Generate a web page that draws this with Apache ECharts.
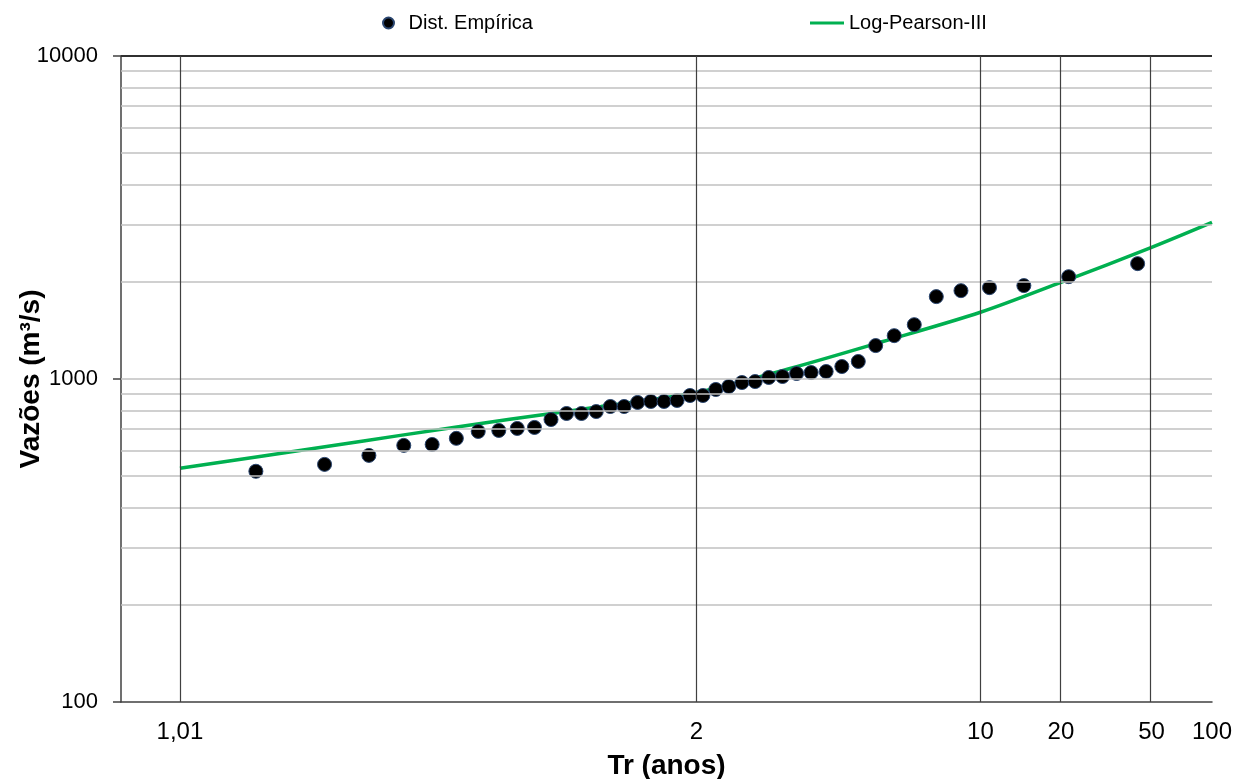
<!DOCTYPE html>
<html><head><meta charset="utf-8">
<script src="https://cdn.jsdelivr.net/npm/echarts@6/dist/echarts.min.js"></script>
<style>html,body{margin:0;padding:0;background:#fff}#c{width:1236px;height:779px}</style>
</head><body><div id="c"></div>
<script>
// Empirical distribution (Weibull plotting positions), return period in years
const empTr = [1.024, 1.049, 1.075, 1.103, 1.132, 1.162, 1.194, 1.229, 1.265, 1.303,
  1.344, 1.387, 1.433, 1.483, 1.536, 1.593, 1.654, 1.72, 1.792, 1.87,
  1.955, 2.048, 2.15, 2.263, 2.389, 2.529, 2.688, 2.867, 3.071, 3.308,
  3.583, 3.909, 4.3, 4.778, 5.375, 6.143, 7.167, 8.6, 10.75, 14.333, 21.5, 43];
const empQ = [518, 544, 580, 623, 627, 655, 688, 693, 703, 708,
  749, 782, 782, 793, 822, 822, 846, 852, 852, 858,
  889, 889, 928, 948, 975, 982, 1011, 1018, 1040, 1047,
  1055, 1093, 1133, 1269, 1362, 1473, 1799, 1877, 1918, 1946, 2074, 2276];
// Log-Pearson III fitted curve
const lp3Tr = [1.01, 1.05, 1.1, 1.25, 1.5, 2, 3, 5, 10, 20, 50, 100];
const lp3Q = [529, 618, 669, 750, 822, 908, 1082, 1306, 1609, 1992, 2555, 3053];
// Axis ticks
const xTickTr = [1.01, 2, 10, 20, 50, 100];
const xTickLabels = ['1,01', '2', '10', '20', '50', '100'];
const yGridMinor = [200, 300, 400, 500, 600, 700, 800, 900, 1000, 2000, 3000, 4000, 5000, 6000, 7000, 8000, 9000];
const yTop = 10000;

function normInv(p) {
  const a = [-3.969683028665376e+01, 2.209460984245205e+02, -2.759285104469687e+02, 1.383577518672690e+02, -3.066479806614716e+01, 2.506628277459239e+00];
  const b = [-5.447609879822406e+01, 1.615858368580409e+02, -1.556989798598866e+02, 6.680131188771972e+01, -1.328068155288572e+01];
  const c = [-7.784894002430293e-03, -3.223964580411365e-01, -2.400758297669140e+00, -2.549732539343734e+00, 4.374664141464968e+00, 2.938163982698783e+00];
  const d = [7.784695709041462e-03, 3.224671290700398e-01, 2.445134137142996e+00, 3.754408661907416e+00];
  const pl = 0.02425;
  let q, r;
  if (p < pl) {
    q = Math.sqrt(-2 * Math.log(p));
    return (((((c[0]*q+c[1])*q+c[2])*q+c[3])*q+c[4])*q+c[5]) / ((((d[0]*q+d[1])*q+d[2])*q+d[3])*q+1);
  } else if (p > 1 - pl) {
    q = Math.sqrt(-2 * Math.log(1 - p));
    return -(((((c[0]*q+c[1])*q+c[2])*q+c[3])*q+c[4])*q+c[5]) / ((((d[0]*q+d[1])*q+d[2])*q+d[3])*q+1);
  }
  q = p - 0.5; r = q * q;
  return (((((a[0]*r+a[1])*r+a[2])*r+a[3])*r+a[4])*r+a[5])*q / (((((b[0]*r+b[1])*r+b[2])*r+b[3])*r+b[4])*r+1);
}
const zOf = T => normInv(1 - 1 / T);

const tickZ = xTickTr.map(zOf);
const empData = empTr.map((t, i) => [zOf(t), empQ[i]]);
const lp3Data = lp3Tr.map((t, i) => [zOf(t), lp3Q[i]]);

const chart = echarts.init(document.getElementById('c'));
const FONT = 'Liberation Sans, Arial, sans-serif';
chart.setOption({
  animation: false,
  backgroundColor: '#fff',
  textStyle: { fontFamily: FONT },
  grid: { left: 121, right: 24, top: 56, bottom: 77, containLabel: false, outerBoundsMode: 'none' },
  legend: [
    { data: [{ name: 'Dist. Empírica', icon: 'circle' }], left: 377, top: 8, itemWidth: 30, itemHeight: 11,
      textStyle: { fontSize: 20, color: '#000', fontFamily: FONT } },
    { data: [{ name: 'Log-Pearson-III', icon: 'rect' }], left: 805, top: 8, itemWidth: 34, itemHeight: 3,
      textStyle: { fontSize: 20, color: '#000', fontFamily: FONT } }
  ],
  xAxis: {
    type: 'value', min: -2.596, max: zOf(100),
    name: 'Tr (anos)', nameLocation: 'middle', nameGap: 50, nameMoveOverlap: false,
    nameTextStyle: { fontSize: 28, fontWeight: 'bold', color: '#000', fontFamily: FONT },
    axisLine: { show: true, onZero: false, lineStyle: { color: '#404040', width: 1.5 } },
    axisTick: { show: false, customValues: tickZ },
    splitLine: { show: false },
    axisLabel: {
      customValues: tickZ, fontSize: 24, color: '#000', margin: 18, fontFamily: FONT,
      formatter: v => {
        let best = 0;
        tickZ.forEach((z, i) => { if (Math.abs(z - v) < Math.abs(tickZ[best] - v)) best = i; });
        return xTickLabels[best];
      }
    }
  },
  yAxis: {
    type: 'log', logBase: 10, min: 100, max: 10000,
    name: 'Vazões (m³/s)', nameLocation: 'middle', nameGap: 76, nameMoveOverlap: false,
    nameTextStyle: { fontSize: 28, fontWeight: 'bold', color: '#000', fontFamily: FONT },
    axisLine: { show: true, onZero: false, lineStyle: { color: '#404040', width: 1.5 } },
    axisTick: { show: true, inside: false, length: 8, lineStyle: { color: '#404040', width: 1.5 } },
    splitLine: { show: false },
    axisLabel: { fontSize: 22, color: '#000', margin: 23, fontFamily: FONT, formatter: v => String(Math.round(v)) }
  },
  series: [
    {
      name: 'grid', type: 'scatter', data: [], z: 1, silent: true,
      markLine: {
        silent: true, symbol: ['none', 'none'], label: { show: false }, animation: false,
        data: [
          ...yGridMinor.map(v => ({ yAxis: v, lineStyle: { color: '#c0c0c0', width: 1.5, type: 'solid' } })),
          { yAxis: yTop, lineStyle: { color: '#303030', width: 2, type: 'solid' } },
          ...tickZ.map(z => ({ xAxis: z, lineStyle: { color: '#404040', width: 1.2, type: 'solid' } }))
        ]
      }
    },
    {
      name: 'Log-Pearson-III', type: 'line', data: lp3Data, smooth: 0.3, showSymbol: false,
      symbol: 'none', z: 3,
      lineStyle: { color: '#00b050', width: 3.5 }, itemStyle: { color: '#00b050' }
    },
    {
      name: 'Dist. Empírica', type: 'scatter', data: empData, symbol: 'circle', symbolSize: 14, z: 4,
      itemStyle: { color: '#000', borderColor: '#2a4670', borderWidth: 1, opacity: 1 }
    }
  ]
});
</script>
</body></html>
